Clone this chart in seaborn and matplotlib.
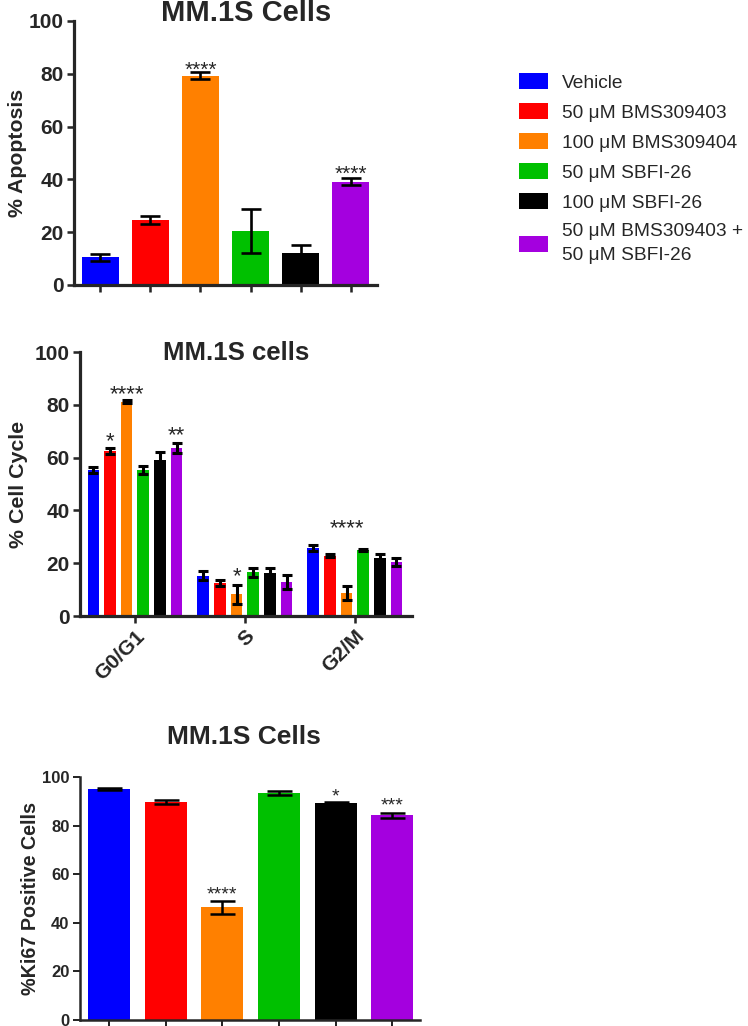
import matplotlib
matplotlib.use('Agg')
import matplotlib.pyplot as plt
import seaborn as sns
import pandas as pd
from matplotlib.patches import Patch

sns.set_style('ticks')
plt.rcParams['font.family'] = ['Liberation Sans', 'DejaVu Sans']

treatments = ['Vehicle', '50 μM BMS309403', '100 μM BMS309404', '50 μM SBFI-26',
              '100 μM SBFI-26', '50 μM BMS309403 +\n50 μM SBFI-26']
colors = ['#0000FF', '#FF0000', '#FF8000', '#00C000', '#000000', '#A400DF']

# apoptosis
apop_mean = [10.5, 24.6, 79.2, 20.4, 12.0, 39.1]
apop_err = [1.3, 1.5, 1.3, 8.2, 3.2, 1.3]

# cell cycle, one list per phase in treatment order
phases = ['G0/G1', 'S', 'G2/M']
cc_mean = [[55.3, 62.5, 81.2, 55.3, 59.1, 63.6],
           [15.3, 12.6, 8.2, 16.5, 16.2, 12.9],
           [25.9, 22.9, 8.6, 24.9, 22.0, 20.3]]
cc_err = [[1.0, 1.0, 0.5, 1.4, 3.0, 2.0],
          [1.7, 1.2, 3.5, 1.8, 2.0, 2.5],
          [1.1, 0.5, 2.7, 0.4, 1.4, 1.5]]

# ki67
ki_mean = [95.0, 89.6, 46.4, 93.4, 89.3, 84.2]
ki_err = [0.5, 0.9, 2.7, 0.8, 0.4, 0.9]

# significance stars: (bar index, text, y of star bottom)
apop_stars = [(2, '****', 81.2), (5, '****', 41.7)]
cc_stars = [(1, '*', 66.0), (2, '****', 83.7), (5, '**', 68.2),
            (8, '*', 14.9), (14, '****', 33.0)]
ki_stars = [(2, '****', 51.4), (4, '*', 91.8), (5, '***', 88.1)]

W, H = 748, 1026
fig = plt.figure(figsize=(W / 100, H / 100), dpi=100)


def px_axes(l, r, t, b):
    return fig.add_axes([l / W, 1 - b / H, (r - l) / W, (b - t) / H])


def style_axis(ax, lw, tick_fs):
    sns.despine(ax=ax)
    for s in ['left', 'bottom']:
        ax.spines[s].set_linewidth(lw)
    ax.tick_params(axis='both', width=lw * 0.8, length=5, pad=2.5,
                   labelsize=tick_fs, direction='out')
    for lab in ax.get_yticklabels() + ax.get_xticklabels():
        lab.set_fontweight('bold')
    ax.set_ylim(0, 100)
    ax.set_yticks([0, 20, 40, 60, 80, 100])


def bar_centers(ax):
    pts = sorted(ax.patches, key=lambda p: p.get_x())
    return [p.get_x() + p.get_width() / 2 for p in pts]


def add_stars(ax, xs, stars, fs):
    for i, txt, y in stars:
        ax.annotate(txt, xy=(xs[i], y), xytext=(0, -0.47 * fs + 3.6),
                    textcoords='offset points', ha='center', va='baseline',
                    fontsize=fs)


# ---- top: apoptosis
ax1 = px_axes(74, 377, 21, 285)
df1 = pd.DataFrame({'treatment': treatments, 'value': apop_mean})
sns.barplot(data=df1, x='treatment', y='value', hue='treatment', palette=colors,
            saturation=1, width=0.74, legend=False, errorbar=None, ax=ax1,
            linewidth=0)
xs1 = bar_centers(ax1)
ax1.errorbar(xs1, apop_mean, yerr=apop_err, fmt='none', ecolor='black',
             elinewidth=1.9, capsize=7.5, capthick=1.9)
ax1.set_xlim(-0.52, 5.52)
style_axis(ax1, 2.3, 15)
ax1.set_xticklabels([])
ax1.set_xlabel('')
ax1.set_ylabel('% Apoptosis', fontsize=15.3, fontweight='bold')
ax1.yaxis.set_label_coords((18 - 74) / 303, 0.5)
ax1.yaxis.label.set_verticalalignment('center')
ax1.set_title('MM.1S Cells', fontsize=21, fontweight='bold', x=0.567,
              y=1.0, pad=0)
add_stars(ax1, xs1, apop_stars, 15)

# legend
handles = [Patch(facecolor=c, edgecolor='none') for c in colors]
leg = fig.legend(handles, treatments, loc='upper left',
                 bbox_to_anchor=(519 / W, 1 - 73 / H),
                 frameon=False, fontsize=13.8, borderpad=0, borderaxespad=0,
                 handlelength=1.5, handleheight=0.9, handletextpad=0.72,
                 labelspacing=0.6)
for t in leg.get_texts():
    t.set_linespacing(1.52)

# ---- middle: cell cycle
ax2 = px_axes(80, 412, 352, 616)
rows = []
for pi, ph in enumerate(phases):
    for ti, tr in enumerate(treatments):
        rows.append({'phase': ph, 'treatment': tr, 'value': cc_mean[pi][ti]})
df2 = pd.DataFrame(rows)
sns.barplot(data=df2, x='phase', y='value', hue='treatment', palette=colors,
            saturation=1, width=0.909, gap=0.3, legend=False, errorbar=None,
            ax=ax2, linewidth=0)
xs2 = bar_centers(ax2)
flat_mean = [v for r in cc_mean for v in r]
flat_err = [v for r in cc_err for v in r]
ax2.errorbar(xs2, flat_mean, yerr=flat_err, fmt='none', ecolor='black',
             elinewidth=2.2, capsize=3.6, capthick=2.2)
ax2.set_xlim(-0.5, 2.52)
style_axis(ax2, 2.3, 15)
ax2.set_xticks(range(len(phases)))
ax2.set_xticklabels(phases, rotation=45, ha='right', rotation_mode='anchor',
                    fontweight='bold', fontsize=15)
ax2.set_xlabel('')
ax2.set_ylabel('% Cell Cycle', fontsize=15.4, fontweight='bold')
ax2.yaxis.set_label_coords((19 - 80) / 332, 0.5)
ax2.yaxis.label.set_verticalalignment('center')
ax2.set_title('MM.1S cells', fontsize=18.5, fontweight='bold', x=0.47,
              y=1 - 8 / 264, pad=0)
add_stars(ax2, xs2, cc_stars, 16)

# ---- bottom: ki67
ax3 = px_axes(80, 420, 777, 1020)
df3 = pd.DataFrame({'treatment': treatments, 'value': ki_mean})
sns.barplot(data=df3, x='treatment', y='value', hue='treatment', palette=colors,
            saturation=1, width=0.74, legend=False, errorbar=None, ax=ax3,
            linewidth=0)
xs3 = bar_centers(ax3)
ax3.errorbar(xs3, ki_mean, yerr=ki_err, fmt='none', ecolor='black',
             elinewidth=1.8, capsize=9, capthick=1.8)
ax3.set_xlim(-0.51, 5.49)
style_axis(ax3, 1.8, 12)
ax3.set_xticklabels([])
ax3.set_xlabel('')
ax3.set_ylabel('%Ki67 Positive Cells', fontsize=14.2, fontweight='bold')
ax3.yaxis.set_label_coords((31 - 80) / 340, 0.5)
ax3.yaxis.label.set_verticalalignment('center')
ax3.set_title('MM.1S Cells', fontsize=19, fontweight='bold', x=0.482,
              y=1 + 33 / 243, pad=0)
add_stars(ax3, xs3, ki_stars, 14)

fig.savefig('out.png', dpi=100)
